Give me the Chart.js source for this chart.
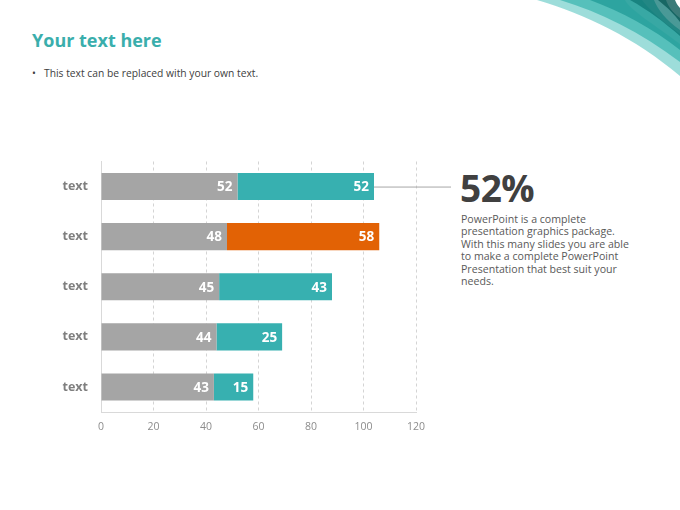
<!DOCTYPE html>
<html>
<head>
<meta charset="utf-8">
<script src="https://cdn.jsdelivr.net/npm/chart.js@4/dist/chart.umd.min.js"></script>
<style>
  html, body { margin: 0; padding: 0; background: #fff; }
  body { width: 680px; height: 510px; position: relative; overflow: hidden; font-family: "Open Sans", "Noto Sans", sans-serif; }
  #title { position: absolute; left: 32px; top: 28px; font-size: 18px; font-weight: bold; color: #3aaeac; }
  #sub { position: absolute; left: 32px; top: 66px; font-size: 10.3px; color: #404040; }
  #sub span { display: inline-block; width: 12px; }
  #big { position: absolute; left: 460px; top: 162px; font-size: 37px; font-weight: bold; color: #404040; letter-spacing: -0.5px; }
  #para { position: absolute; left: 461px; top: 213px; width: 200px; font-size: 10.6px; line-height: 12.4px; color: #595959; }
  #wrap { position: absolute; left: 0; top: 149px; width: 680px; height: 291px; }
  #swoosh { position: absolute; right: 0; top: 0; }
</style>
</head>
<body>
<svg id="swoosh" width="150" height="80" viewBox="0 0 150 80">
  <path d="M7,0 C55,14 105,38 150,76 L150,44 C125,25 100,10 95,0 Z" fill="#5cc6c2" opacity="0.6"/>
  <path d="M30,0 C70,12 110,32 150,62 L150,34 C130,20 118,8 112,0 Z" fill="#2fb0ab" opacity="0.65"/>
  <path d="M60,0 C92,12 122,28 150,50 L150,30 C136,20 128,10 124,0 Z" fill="#1c9994" opacity="0.7"/>
  <path d="M100,0 C118,10 134,22 150,36 L150,18 C142,12 138,6 136,0 Z" fill="#0d7774" opacity="0.75"/>
  <path d="M128,0 C138,8 144,14 150,22 L150,8 C147,5 146,2 145,0 Z" fill="#0a5a57" opacity="0.8"/>
</svg>
<div id="title">Your text here</div>
<div id="sub"><span>•</span>This text can be replaced with your own text.</div>
<div id="big">52%</div>
<div id="para">PowerPoint is a complete<br>presentation graphics package.<br>With this many slides you are able<br>to make a complete PowerPoint<br>Presentation that best suit your<br>needs.</div>
<div id="wrap"><canvas id="chart"></canvas></div>
<script>
// данные графика
const categories = ['text', 'text', 'text', 'text', 'text'];
const greyValues = [52, 48, 45, 44, 43];
const colorValues = [52, 58, 43, 25, 15];
const colorBars = ['#37b0b0', '#e26205', '#37b0b0', '#37b0b0', '#37b0b0'];
const xTicks = [0, 20, 40, 60, 80, 100, 120];

const valueLabels = {
  id: 'valueLabels',
  afterDatasetsDraw(chart) {
    const ctx = chart.ctx;
    ctx.save();
    ctx.font = 'bold 13.5px "Open Sans", sans-serif';
    ctx.fillStyle = '#fff';
    ctx.textAlign = 'right';
    ctx.textBaseline = 'middle';
    chart.data.datasets.forEach((ds, i) => {
      chart.getDatasetMeta(i).data.forEach((bar, j) => {
        ctx.fillText(ds.data[j], bar.x - 5, bar.y + 1);
      });
    });
    // линия к подписи
    const first = chart.getDatasetMeta(1).data[0];
    ctx.strokeStyle = '#a6a6a6';
    ctx.lineWidth = 1;
    ctx.beginPath();
    ctx.moveTo(first.x, first.y + 0.5);
    ctx.lineTo(451, first.y + 0.5);
    ctx.stroke();
    ctx.restore();
  }
};

let ctx = document.getElementById('chart').getContext('2d');
let chart = new Chart(ctx, {
  type: 'bar',
  data: {
    labels: categories,
    datasets: [
      { data: greyValues, backgroundColor: '#a5a5a5' },
      { data: colorValues, backgroundColor: colorBars }
    ]
  },
  options: {
    indexAxis: 'y',
    responsive: true,
    maintainAspectRatio: false,
    animation: false,
    categoryPercentage: 1,
    barPercentage: 0.54,
    layout: { padding: { top: -2, right: 264, left: 0, bottom: 0 } },
    plugins: { legend: { display: false }, tooltip: { enabled: false } },
    scales: {
      x: {
        stacked: true,
        min: 0, max: 120,
        afterBuildTicks: s => { s.ticks = xTicks.map(v => ({ value: v })); },
        afterFit: s => { s.height = 28; },
        grid: { color: '#d4d4d4', drawTicks: false, tickLength: 0 },
        border: { display: true, color: '#d9d9d9', dash: [3, 3] },
        ticks: { color: '#8c8c8c', padding: 9, font: { size: 10.5, family: '"Open Sans", sans-serif' } }
      },
      y: {
        stacked: true,
        afterFit: s => { s.width = 101; },
        grid: { display: false },
        border: { display: true, color: '#d9d9d9' },
        ticks: { color: '#7f7f7f', padding: 5, font: { size: 12.5, weight: 'bold', family: '"Open Sans", sans-serif' } }
      }
    }
  },
  plugins: [valueLabels]
});
</script>
</body>
</html>
